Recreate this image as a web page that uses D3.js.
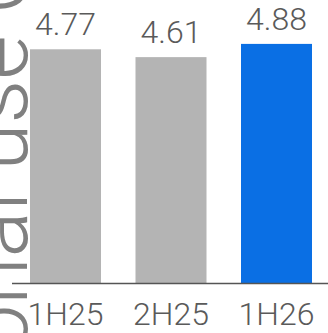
<!DOCTYPE html>
<html>
<head>
<meta charset="utf-8">
<script src="https://cdn.jsdelivr.net/npm/d3@7"></script>
<style>
  html, body { margin: 0; padding: 0; background: #ffffff; overflow: hidden; }
  svg { display: block; }
</style>
</head>
<body>
<svg id="chart" width="328" height="333"></svg>
<script>
const categories = ["1H25", "2H25", "1H26"];
const values = [4.77, 4.61, 4.88];
const barColors = ["#b4b4b4", "#b4b4b4", "#0a6fe4"];
const yTitle = "Personal use Cost";

const svg = d3.select("#chart");
const W = 328, H = 333;
const font = "Roboto, 'Liberation Sans', Arial, sans-serif";
const weight = 300;

const x = d3.scaleBand().domain(categories).range([-4.5, 346.5]).padding(0.327);
const y = d3.scaleLinear().domain([0, 5.776]).range([283, 0]);

// y-axis title (large, partially cut off)
const title = svg.append("text")
  .attr("font-family", font)
  .attr("font-weight", weight)
  .attr("font-size", 80)
  .attr("fill", "#808080")
  .attr("text-anchor", "start")
  .text(yTitle);

// fit: centre of "l" (in "onal") at y=201.5, centre of "e" (in "use") at y=57.5
const node = title.node();
const iL = yTitle.indexOf("al ") + 1;
const iE = yTitle.indexOf("use") + 2;
function ctr(i) {
  return (node.getStartPositionOfChar(i).x + node.getEndPositionOfChar(i).x) / 2;
}
const d80 = ctr(iE) - ctr(iL);
const fs = 80 * 144 / d80;
title.attr("font-size", fs);
const cL = ctr(iL);
title.attr("transform", `translate(26.5,${201.5 + cL}) rotate(-90)`);

// bars
svg.append("g").selectAll("rect")
  .data(values)
  .join("rect")
  .attr("x", (d, i) => x(categories[i]))
  .attr("width", x.bandwidth())
  .attr("y", d => y(d))
  .attr("height", d => y(0) - y(d))
  .attr("fill", (d, i) => barColors[i]);

// value labels
svg.append("g").selectAll("text")
  .data(values)
  .join("text")
  .attr("x", (d, i) => x(categories[i]) + x.bandwidth() / 2)
  .attr("y", d => y(d) - 14)
  .attr("text-anchor", "middle")
  .attr("font-family", font)
  .attr("font-weight", weight)
  .attr("font-size", 32)
  .attr("fill", "#5a5a5a")
  .text(d => d.toFixed(2));

// x axis
const xAxis = d3.axisBottom(x).tickSize(0).tickPadding(0);
const gx = svg.append("g").attr("transform", `translate(0,${y(0)})`).call(xAxis);
gx.select(".domain").remove();
gx.append("line")
  .attr("x1", 12).attr("x2", W)
  .attr("y1", 0.5).attr("y2", 0.5)
  .attr("stroke", "#555555").attr("stroke-width", 1.5);
gx.selectAll(".tick text")
  .attr("font-family", font)
  .attr("font-weight", weight)
  .attr("font-size", 32)
  .attr("fill", "#5a5a5a")
  .attr("dy", null)
  .attr("y", 42);
</script>
</body>
</html>
